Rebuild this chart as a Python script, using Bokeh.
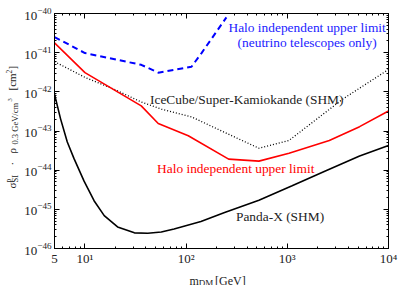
import math
from bokeh.plotting import figure
from bokeh.models import (LogAxis, FixedTicker, LogTickFormatter, BasicTickFormatter, Label, Range1d)
from bokeh.layouts import row, column
from bokeh.embed import file_html
from bokeh.resources import INLINE

# ---- data ----
panda_m = [5, 5.74, 6.69, 7.78, 9.8, 12.3, 15.5, 21.0, 30.8, 41.8, 56.8, 76, 140, 240, 524, 1115, 2376, 5180, 10000]
panda_s = [8.71e-43, 2.04e-43, 5.25e-44, 2.00e-44, 5.25e-45, 1.66e-45, 6.92e-46, 3.55e-46, 2.51e-46, 2.45e-46,
           2.63e-46, 3.16e-46, 4.9e-46, 8.32e-46, 1.70e-45, 3.98e-45, 9.55e-45, 2.29e-44, 4.27e-44]

halo_m = [5, 10, 36, 53, 105, 263, 524, 1040, 2600, 5180, 10000]
halo_s = [1.78e-41, 3.09e-42, 4.37e-43, 1.55e-43, 7.59e-44, 1.91e-44, 1.70e-44, 2.69e-44, 5.75e-44, 1.29e-43, 3.24e-43]

ic_m = [5, 10, 19.3, 36, 57, 113, 282, 524, 1040, 3508, 10000]
ic_s = [5.89e-42, 2.34e-42, 1.17e-42, 5.50e-43, 3.63e-43, 2.29e-43, 7.59e-44, 3.63e-44, 5.75e-44, 6.46e-43, 3.72e-42]

nu_m = [5, 10, 36, 53, 113, 142, 250]
nu_s = [2.51e-41, 9.77e-42, 4.90e-42, 3.09e-42, 4.37e-42, 9.77e-42, 7.94e-41]

x_major = [5, 10, 100, 1000, 10000]
x_labels = ["5", "10¹", "10²", "10³", "10⁴"]
x_minor = [6, 7, 8, 9, 20, 30, 40, 50, 60, 70, 80, 90, 200, 300, 400, 500, 600, 700, 800, 900,
           2000, 3000, 4000, 5000, 6000, 7000, 8000, 9000]
y_major = [1e-46, 1e-45, 1e-44, 1e-43, 1e-42, 1e-41, 1e-40]
y_minor = [k * d for d in [1e-46, 1e-45, 1e-44, 1e-43, 1e-42, 1e-41] for k in range(2, 10)]

FONT = "Liberation Serif"
TXT = "#222222"
W, H = 407, 285
YL_W = 19          # width of the y-label strip
XL_H = 17          # height of the x-label strip
MW, MH = W - YL_W, H - XL_H

p = figure(width=MW, height=MH, x_axis_type="log", y_axis_type="log",
           x_range=Range1d(5, 1e4), y_range=Range1d(1e-46, 1e-40),
           output_backend="svg", toolbar_location=None, title=None,
           min_border_left=54 - YL_W, min_border_right=19, min_border_top=13, min_border_bottom=MH - 251)
p.grid.visible = False
p.outline_line_color = "black"
p.outline_line_width = 1
p.background_fill_color = "white"
p.border_fill_color = "white"

def style_axis(ax, labels=True):
    ax.axis_line_color = "black"
    ax.major_tick_in = 5
    ax.major_tick_out = 0
    ax.minor_tick_in = 2
    ax.minor_tick_out = 0
    ax.major_tick_line_color = "black"
    ax.minor_tick_line_color = "black"
    if labels:
        ax.major_label_text_font = FONT
        ax.major_label_text_font_size = "13px"
        ax.major_label_text_color = TXT
    else:
        ax.major_label_text_font_size = "1px"
        ax.major_label_text_color = None
        ax.major_label_standoff = 0

p.xaxis.ticker = FixedTicker(ticks=x_major, minor_ticks=x_minor)
p.yaxis.ticker = FixedTicker(ticks=y_major, minor_ticks=y_minor)
p.xaxis.formatter = BasicTickFormatter()
p.xaxis.major_label_overrides = dict(zip(x_major, x_labels))
p.yaxis.formatter = LogTickFormatter()
style_axis(p.xaxis[0])
style_axis(p.yaxis[0])
p.xaxis.major_label_standoff = 2
p.yaxis.major_label_standoff = 3

top = LogAxis(ticker=FixedTicker(ticks=x_major[1:], minor_ticks=x_minor))
right = LogAxis(ticker=FixedTicker(ticks=y_major, minor_ticks=y_minor))
style_axis(top, labels=False)
style_axis(right, labels=False)
p.add_layout(top, "above")
p.add_layout(right, "right")

p.line(nu_m, nu_s, line_color="#0000ff", line_width=2, line_dash="6 4")
p.line(ic_m, ic_s, line_color="black", line_width=1.3, line_dash="1 2")
p.line(halo_m, halo_s, line_color="#ff0000", line_width=1.6)
p.line(panda_m, panda_s, line_color="black", line_width=1.6)

def note(x, y, text, color):
    p.add_layout(Label(x=x, y=y, text=text, text_color=color, text_font=FONT,
                       text_font_size="13.4px", text_align="center", text_baseline="middle"))

note(1570, 10**-40.35, "Halo independent upper limit", "#2222ff")
note(1570, 10**-40.75, "(neutrino telescopes only)", "#2222ff")
note(397, 10**-42.19, "IceCube/Super-Kamiokande (SHM)", TXT)
note(309, 10**-43.97, "Halo independent upper limit", "#ff0000")
note(847, 10**-45.18, "Panda-X (SHM)", TXT)

def strip(w, h):
    # a plain figure whose frame fills it; labels are placed by pixel offsets from its centre
    f = figure(width=w, height=h, x_range=Range1d(0, 1), y_range=Range1d(0, 1),
               output_backend="svg", toolbar_location=None, title=None,
               x_axis_location=None, y_axis_location=None,
               min_border_left=0, min_border_right=0, min_border_top=0, min_border_bottom=0)
    f.grid.visible = False
    f.outline_line_color = None
    f.background_fill_color = "white"
    f.border_fill_color = "white"
    return f

def lab(f, cx, cy, px, py, text, size, angle=0.0):
    # (cx, cy): page position of the strip centre; (px, py): page position of the text anchor
    f.add_layout(Label(x=0.5, y=0.5, x_offset=px - cx, y_offset=cy - py, text=text,
                       text_font=FONT, text_font_size=size, text_color=TXT,
                       text_align="left", text_baseline="alphabetic", angle=angle))

# x axis label: m_DM [GeV]
xl = strip(MW, XL_H)
XC, XCY = YL_W + MW / 2, MH + XL_H / 2
lab(xl, XC, XCY, 181, 280, "m", "12px")
lab(xl, XC, XCY, 190.3, 282, "DM", "9px")
lab(xl, XC, XCY, 206.5, 280, "[GeV]", "12px")

# y axis label (rotated, reading upwards)
yl = strip(YL_W, H)
YC, YCY = YL_W / 2, H / 2
A = math.pi / 2
lab(yl, YC, YCY, 11.5, 188, "σ", "11px", A)
lab(yl, YC, YCY, 8, 182, "p", "7.5px", A)
lab(yl, YC, YCY, 14.5, 182, "SI", "8.5px", A)
lab(yl, YC, YCY, 11.5, 165, "·", "11px", A)
lab(yl, YC, YCY, 11.5, 153, "ρ", "11px", A)
lab(yl, YC, YCY, 14.5, 144, "0.3 GeV/cm", "8.5px", A)
lab(yl, YC, YCY, 9, 101, "3", "6.5px", A)
lab(yl, YC, YCY, 11.5, 90, "[cm", "11px", A)
lab(yl, YC, YCY, 8, 72.9, "2", "7.5px", A)
lab(yl, YC, YCY, 11.5, 69.1, "]", "11px", A)

layout = row(yl, column(p, xl, spacing=0), spacing=0)
open("out.html", "w").write(file_html(layout, INLINE))
